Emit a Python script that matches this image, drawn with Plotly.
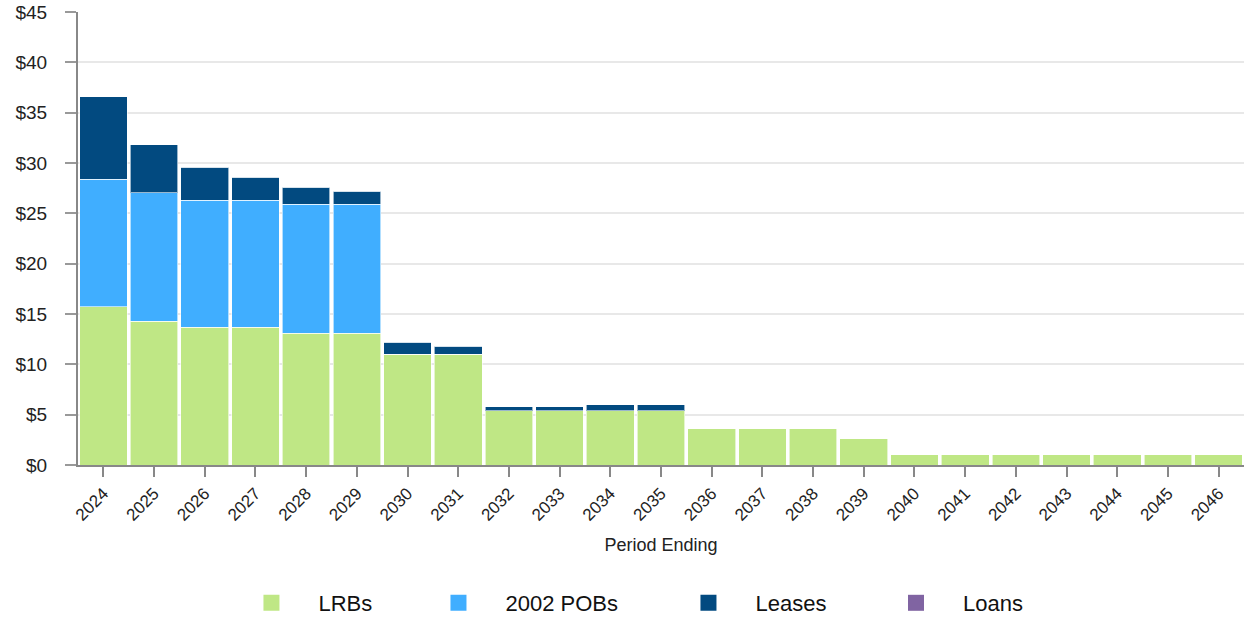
import plotly.graph_objects as go

years = [str(y) for y in range(2024, 2047)]
lrbs = [15.7, 14.3, 13.7, 13.7, 13.1, 13.1, 11.0, 11.0, 5.4, 5.4, 5.4, 5.4,
        3.6, 3.6, 3.6, 2.6, 1.0, 1.0, 1.0, 1.0, 1.0, 1.0, 1.0]
pobs = [12.7, 12.75, 12.6, 12.6, 12.8, 12.8, 0, 0, 0, 0, 0, 0,
        0, 0, 0, 0, 0, 0, 0, 0, 0, 0, 0]
leases = [8.2, 4.75, 3.3, 2.3, 1.7, 1.3, 1.2, 0.8, 0.4, 0.4, 0.6, 0.6,
          0, 0, 0, 0, 0, 0, 0, 0, 0, 0, 0]
loans = [0] * 23

series = [("LRBs", lrbs, "#bfe785"), ("2002 POBs", pobs, "#40aeff"),
          ("Leases", leases, "#024a80"), ("Loans", loans, "#8064a2")]
legend_x = [0.1256, 0.286, 0.5004, 0.6784]
legend_ids = ["legend", "legend2", "legend3", "legend4"]

FONT = "Arial, Liberation Sans, sans-serif"
fig = go.Figure()
for name, vals, col in series:
    fig.add_trace(go.Bar(x=years, y=vals, name=name, marker_color=col,
                         marker_line=dict(color="rgba(255,255,255,0.6)", width=1),
                         showlegend=False, hoverinfo="x+y+name"))
for (name, vals, col), lid in zip(series, legend_ids):
    fig.add_trace(go.Scatter(x=[None], y=[None], name=name, mode="markers",
                             legend=lid,
                             marker=dict(symbol="square", size=24, color=col)))

leg_common = dict(orientation="h", xanchor="left", y=-0.351, yanchor="bottom",
                  font=dict(size=22, color="#111"), itemwidth=84,
                  bgcolor="rgba(0,0,0,0)")
legends = {lid: dict(x=lx, **leg_common) for lid, lx in zip(legend_ids, legend_x)}

fig.update_layout(
    barmode="stack", bargap=0.06,
    width=1244, height=619,
    margin=dict(l=78, r=0, t=12, b=154, autoexpand=False),
    plot_bgcolor="white", paper_bgcolor="white",
    font=dict(family=FONT, color="#222"),
    xaxis=dict(title=dict(text="Period Ending", font=dict(size=18), standoff=15),
               tickangle=-45, tickfont=dict(size=17), showline=True,
               linecolor="#888", linewidth=2, ticks="outside", ticklen=10,
               tickcolor="#888", tickwidth=2, range=[-0.5, 22.5],
               automargin=False),
    yaxis=dict(range=[0, 45], dtick=5, tickprefix="$", tickfont=dict(size=19),
               showline=True, linecolor="#888", linewidth=2, gridcolor="#e8e8e8",
               gridwidth=2, ticks="outside", ticklen=11, tickcolor="#999",
               tickwidth=2, zeroline=False, automargin=False,
               ticklabelstandoff=14),
    **legends,
)
fig.write_html("out.html", config={"displayModeBar": False},
               post_script="document.body.style.margin='0';")
